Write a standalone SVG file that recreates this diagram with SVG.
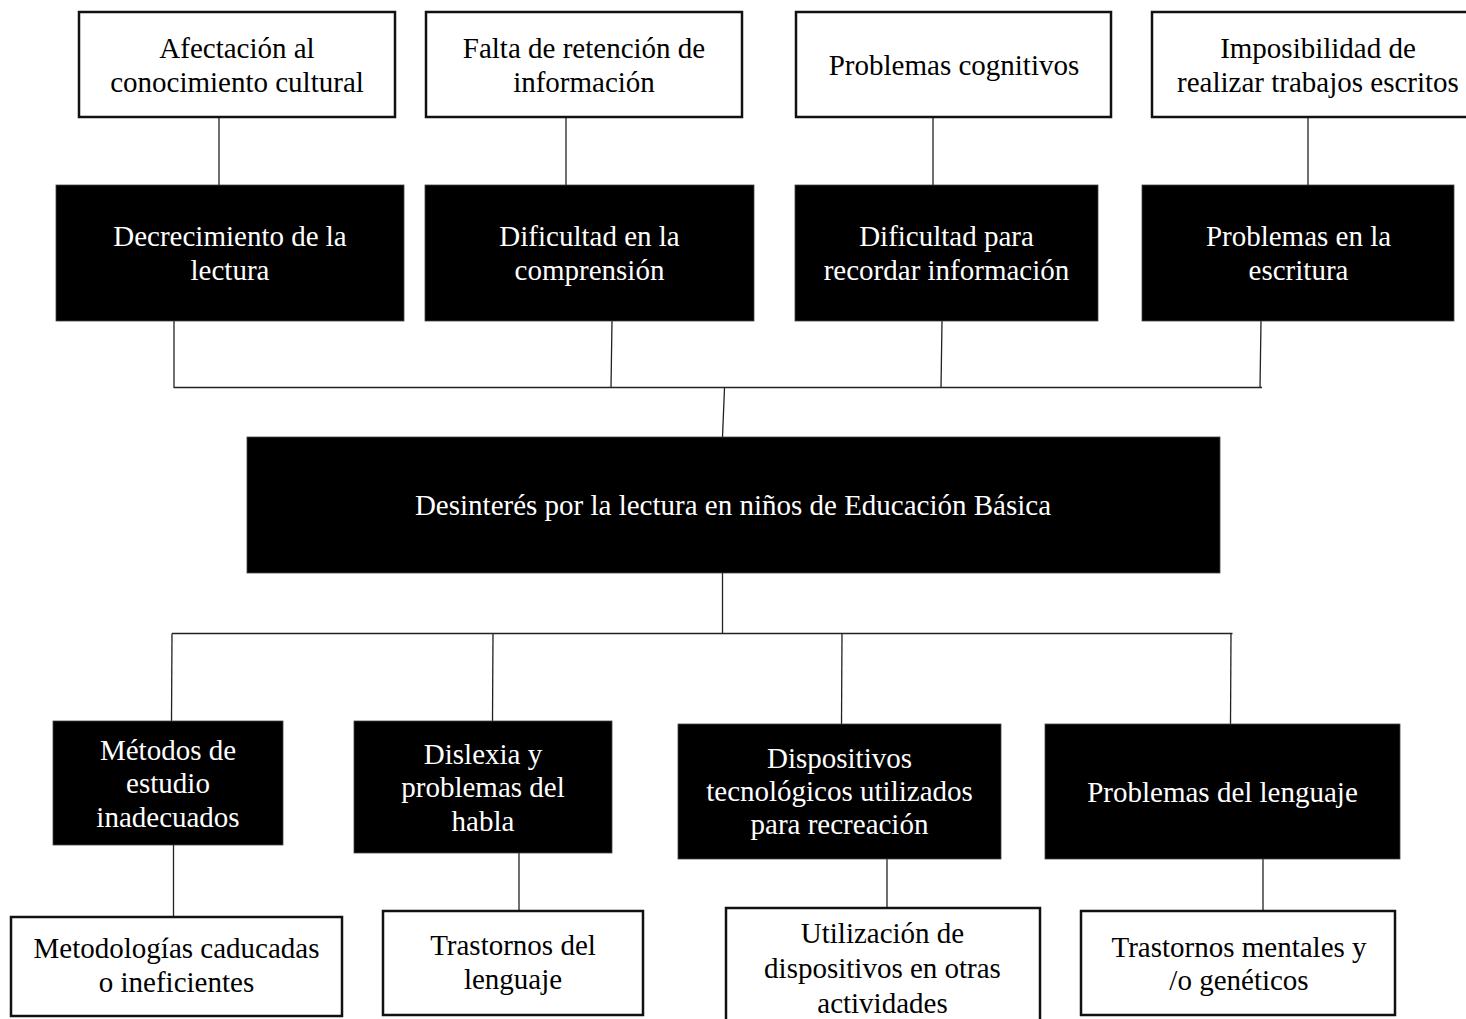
<svg xmlns="http://www.w3.org/2000/svg" width="1466" height="1019" viewBox="0 0 1466 1019">
<style>
text{font-family:"Liberation Serif","Times New Roman",serif;font-size:29px;text-anchor:middle}
.w rect{fill:#fff;stroke:#111;stroke-width:2.5}
.b rect{fill:#000;stroke:#444;stroke-width:0.8}
.w text{fill:#000}
.b text{fill:#fff}
#connectors line{stroke:#222;stroke-width:1.3}
</style>
<rect width="1466" height="1019" fill="#fff"/>
<g id="connectors">
<line x1="219" y1="118" x2="219" y2="185"/>
<line x1="566" y1="118" x2="566" y2="185"/>
<line x1="933" y1="118" x2="933" y2="185"/>
<line x1="1308" y1="118" x2="1308" y2="185"/>
<line x1="174" y1="321" x2="174" y2="388"/>
<line x1="612" y1="321" x2="611" y2="388"/>
<line x1="942" y1="321" x2="941" y2="388"/>
<line x1="1261" y1="321" x2="1260" y2="388"/>
<line x1="174" y1="387.5" x2="1262" y2="387.5"/>
<line x1="724.5" y1="388" x2="722.5" y2="437"/>
<line x1="722.5" y1="573" x2="722.5" y2="633.5"/>
<line x1="172" y1="633.5" x2="1232.5" y2="633.5"/>
<line x1="172" y1="633.5" x2="171.5" y2="721"/>
<line x1="493" y1="633.5" x2="492.5" y2="721"/>
<line x1="842" y1="633.5" x2="841.5" y2="724"/>
<line x1="1231" y1="633.5" x2="1230.5" y2="724"/>
<line x1="173.5" y1="845" x2="173.5" y2="916"/>
<line x1="519" y1="853" x2="519" y2="911"/>
<line x1="887" y1="859" x2="887" y2="908"/>
<line x1="1263" y1="859" x2="1263" y2="911"/>
</g>
<g id="e1" class="w"><rect x="79" y="12" width="316" height="105"/><text x="237" y="58">Afectación al</text><text x="237" y="92">conocimiento cultural</text></g>
<g id="e2" class="w"><rect x="426" y="12" width="316" height="105"/><text x="584" y="58">Falta de retención de</text><text x="584" y="92">información</text></g>
<g id="e3" class="w"><rect x="796" y="12" width="315" height="105"/><text x="954" y="75">Problemas cognitivos</text></g>
<g id="e4" class="w"><rect x="1152" y="12" width="318" height="105"/><text x="1318" y="58">Imposibilidad de</text><text x="1318" y="92">realizar trabajos escritos</text></g>
<g id="c1" class="b"><rect x="56" y="185" width="348" height="136"/><text x="230" y="246">Decrecimiento de la</text><text x="230" y="280">lectura</text></g>
<g id="c2" class="b"><rect x="425" y="185" width="329" height="136"/><text x="589.5" y="246">Dificultad en la</text><text x="589.5" y="280">comprensión</text></g>
<g id="c3" class="b"><rect x="795" y="185" width="303" height="136"/><text x="946.5" y="246">Dificultad para</text><text x="946.5" y="280">recordar información</text></g>
<g id="c4" class="b"><rect x="1142" y="185" width="312" height="136"/><text x="1298.5" y="246">Problemas en la</text><text x="1298.5" y="280">escritura</text></g>
<g id="main" class="b"><rect x="247" y="437" width="973" height="136"/><text x="733" y="515">Desinterés por la lectura en niños de Educación Básica</text></g>
<g id="k1" class="b"><rect x="53" y="721" width="230" height="124"/><text x="168" y="760">Métodos de</text><text x="168" y="793">estudio</text><text x="168" y="826.5">inadecuados</text></g>
<g id="k2" class="b"><rect x="354" y="721" width="258" height="132"/><text x="483" y="763.5">Dislexia y</text><text x="483" y="797">problemas del</text><text x="483" y="830.5">habla</text></g>
<g id="k3" class="b"><rect x="678" y="724" width="323" height="135"/><text x="839.5" y="768">Dispositivos</text><text x="839.5" y="801">tecnológicos utilizados</text><text x="839.5" y="834">para recreación</text></g>
<g id="k4" class="b"><rect x="1045" y="724" width="355" height="135"/><text x="1222.5" y="801.5">Problemas del lenguaje</text></g>
<g id="s1" class="w"><rect x="11" y="917" width="331" height="99"/><text x="176.5" y="958">Metodologías caducadas</text><text x="176.5" y="991.5">o ineficientes</text></g>
<g id="s2" class="w"><rect x="383" y="911" width="260" height="104"/><text x="513" y="955">Trastornos del</text><text x="513" y="989">lenguaje</text></g>
<g id="s3" class="w"><rect x="726" y="908" width="314" height="116"/><text x="882.5" y="943">Utilización de</text><text x="882.5" y="978">dispositivos en otras</text><text x="882.5" y="1013">actividades</text></g>
<g id="s4" class="w"><rect x="1081" y="911" width="314" height="104"/><text x="1239" y="956.5">Trastornos mentales y</text><text x="1239" y="990">/o genéticos</text></g>
</svg>
